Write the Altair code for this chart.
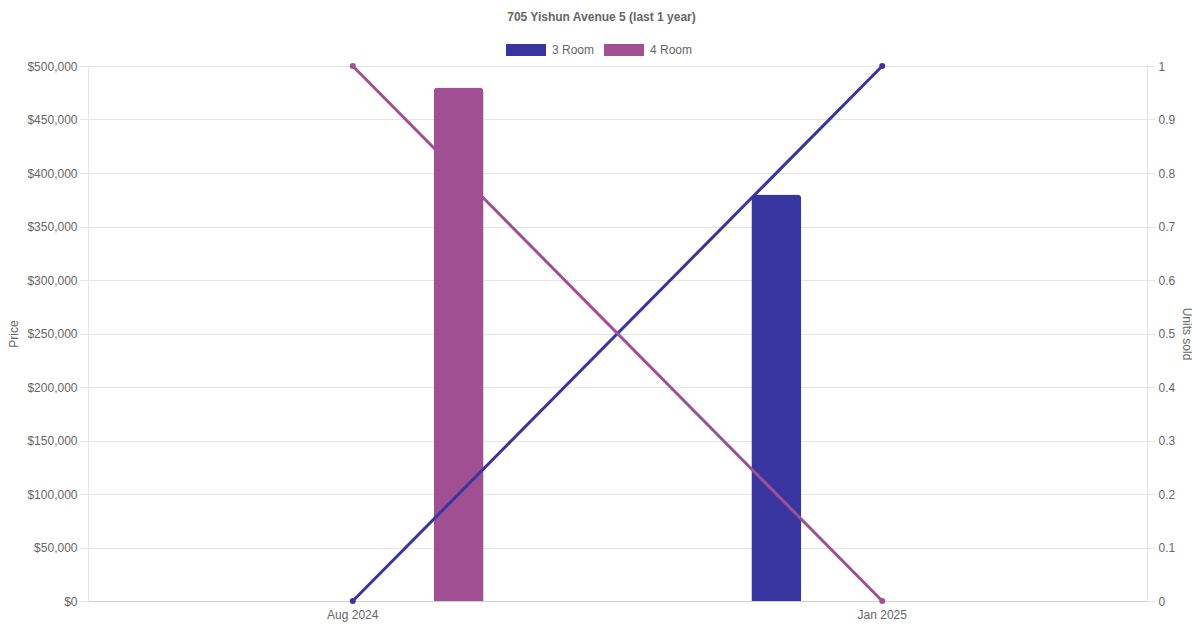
import altair as alt
import pandas as pd

# values
months = ["Aug 2024", "Jan 2025"]
flat_types = ["3 Room", "4 Room"]
colors = ["#3935a0", "#a05092"]

price_3_room = [None, 380000]
price_4_room = [480000, None]
units_3_room = [0, 1]
units_4_room = [1, 0]

price_ticks = list(range(0, 500001, 50000))
unit_ticks = [i / 10 for i in range(11)]

rows = []
for i, m in enumerate(months):
    rows.append({"month": m, "flat_type": "3 Room",
                 "price": price_3_room[i], "units": units_3_room[i]})
    rows.append({"month": m, "flat_type": "4 Room",
                 "price": price_4_room[i], "units": units_4_room[i]})
source = pd.DataFrame(rows)

FONT = "Liberation Sans"
GREY = "#666666"
LIGHT = "#e5e5e5"

x = alt.X(
    "month:N", sort=months,
    scale=alt.Scale(domain=months, paddingInner=0, paddingOuter=0),
    axis=alt.Axis(title=None, labelAngle=0, grid=False, ticks=False, tickSize=0,
                  labelPadding=8, domainColor="#d0d0d0", labelFontSize=12,
                  labelColor=GREY, labelFont=FONT)
)

color = alt.Color(
    "flat_type:N",
    scale=alt.Scale(domain=flat_types, range=colors),
    legend=alt.Legend(
        title=None, orient="none", direction="horizontal",
        legendX=418, legendY=-36,
        symbolType="M-1,-0.3H1V0.3H-1Z", symbolSize=1600,
        symbolStrokeWidth=0, symbolOpacity=1,
        labelFont=FONT, labelFontSize=12, labelColor=GREY,
        labelOffset=6, columnPadding=9
    )
)

bars = alt.Chart(source).transform_filter(
    "isValid(datum.price)"
).mark_bar(cornerRadiusTopLeft=4, cornerRadiusTopRight=4).encode(
    x=x,
    xOffset=alt.XOffset(
        "flat_type:N", sort=flat_types,
        scale=alt.Scale(domain=flat_types, paddingInner=0.764, paddingOuter=0.632)
    ),
    y=alt.Y(
        "price:Q",
        scale=alt.Scale(domain=[0, 500000], nice=False),
        axis=alt.Axis(title="Price", format="$,.0f", values=price_ticks,
                      gridColor=LIGHT, domainColor=LIGHT, tickColor=LIGHT,
                      tickSize=8, labelPadding=3, labelFontSize=12,
                      labelColor=GREY, labelFont=FONT,
                      titleFont=FONT, titleFontSize=12, titleFontWeight="normal",
                      titleColor=GREY, titleX=-75, titleY=267.5,
                      titleAngle=-90, titleBaseline="middle", titleAlign="center")
    ),
    color=color
)

lines = alt.Chart(source).mark_line(
    strokeWidth=3,
    point=alt.OverlayMarkDef(filled=True, size=36, opacity=1)
).encode(
    x=x,
    y=alt.Y(
        "units:Q",
        scale=alt.Scale(domain=[0, 1], nice=False),
        axis=alt.Axis(orient="right", title="Units sold", format=".1~f",
                      values=unit_ticks, grid=False,
                      domainColor=LIGHT, tickColor=LIGHT,
                      tickSize=8, labelPadding=3, labelFontSize=12,
                      labelColor=GREY, labelFont=FONT,
                      titleFont=FONT, titleFontSize=12, titleFontWeight="normal",
                      titleColor=GREY, titleX=39, titleY=267.5,
                      titleAngle=90, titleBaseline="middle", titleAlign="center")
    ),
    color=alt.Color("flat_type:N", scale=alt.Scale(domain=flat_types, range=colors),
                    legend=None)
)

chart = alt.layer(bars, lines).resolve_scale(
    y="independent"
).properties(
    width=1059,
    height=535,
    autosize=alt.AutoSizeParams(type="none"),
    padding={"left": 80, "top": 58, "right": 45, "bottom": 21},
    title=alt.TitleParams(
        "705 Yishun Avenue 5 (last 1 year)",
        font=FONT, fontSize=12, fontWeight="bold", color=GREY,
        anchor="middle", frame="group", dx=-16, offset=6
    )
).configure_view(
    stroke=None
)

chart.save("out.html", embed_options={"renderer": "svg", "actions": False})
